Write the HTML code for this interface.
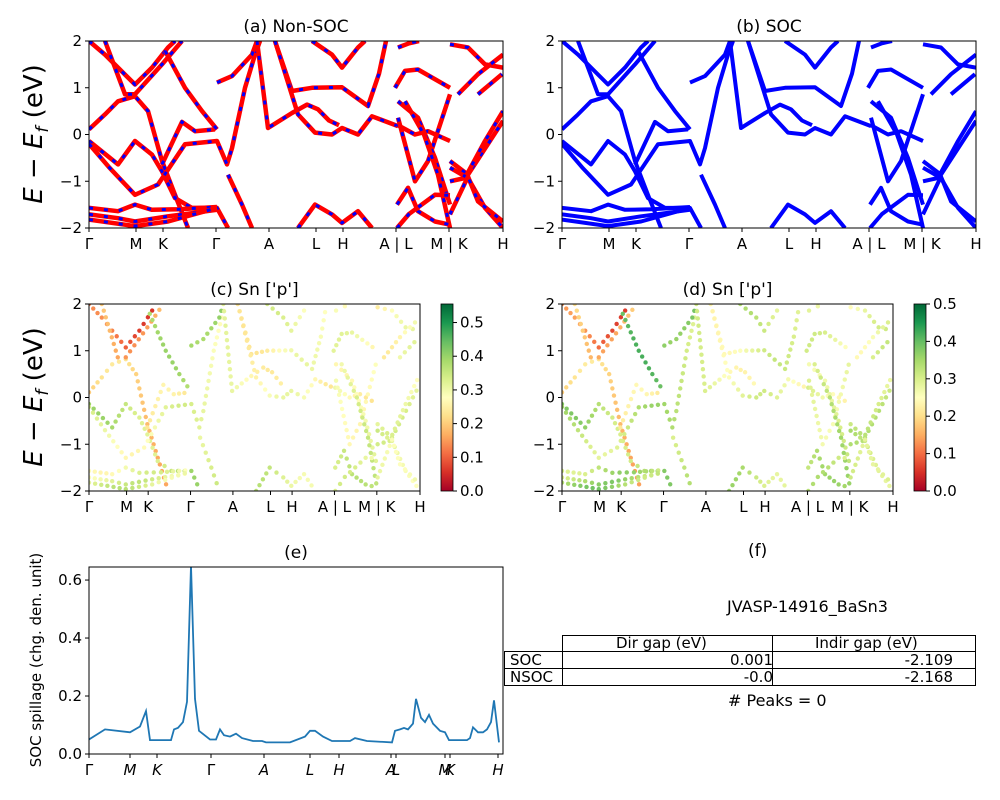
<!DOCTYPE html>
<html><head><meta charset="utf-8"><style>
body{margin:0;background:#fff}
svg{display:block;font-family:"DejaVu Sans","Liberation Sans",sans-serif}
</style></head><body>
<svg id="fig" width="1000" height="800" viewBox="0 0 1000 800">
<defs>
<linearGradient id="rdylgn" x1="0" y1="1" x2="0" y2="0">
<stop offset="0" stop-color="#a50026"/><stop offset="0.1" stop-color="#d73027"/><stop offset="0.2" stop-color="#f46d43"/><stop offset="0.3" stop-color="#fdae61"/><stop offset="0.4" stop-color="#fee08b"/><stop offset="0.5" stop-color="#ffffbf"/><stop offset="0.6" stop-color="#d9ef8b"/><stop offset="0.7" stop-color="#a6d96a"/><stop offset="0.8" stop-color="#66bd63"/><stop offset="0.9" stop-color="#1a9850"/><stop offset="1" stop-color="#006837"/>
</linearGradient>
</defs>
</svg>
<script>
// ---- data ----
const kTickPos = [0,0.47,0.74,1.27,1.80,2.27,2.54,3.07,3.60,4.14];
const kTickLabels = ["Γ","M","K","Γ","A","L","H","A | L","M | K","H"];
const kMax = 4.14;
const eTicks = [-2,-1,0,1,2];
const bands = [
 [[0,0.11],[0.16,0.43],[0.29,0.71],[0.46,0.82],[0.59,0.5],[0.73,-0.57],[0.86,-1.29],[0.99,-2]],
 [[0,-0.14],[0.29,-0.64],[0.46,-0.14],[0.63,-0.43],[0.73,-0.79],[0.86,-1.36],[1.03,-1.57],[1.28,-1.57],[1.39,-2]],
 [[0,-0.2],[0.2,-0.7],[0.46,-1.29],[0.69,-1.07],[0.96,-0.21],[1.28,-0.14],[1.38,-0.64],[1.43,-0.29],[1.56,1],[1.66,1.71],[1.71,2]],
 [[0.73,-0.64],[0.93,0.27],[1.06,0.07],[1.26,0.11]],
 [[1.28,1.11],[1.43,1.25],[1.63,1.71],[1.68,2]],
 [[1.39,-0.86],[1.53,-1.5],[1.63,-2]],
 [[1.68,2],[1.79,0.14],[2.03,0.46],[2.18,0.64],[2.29,0.54],[2.4,0.3],[2.5,0.2]],
 [[1.86,2],[2.03,0.93],[2.23,1],[2.53,1.01],[2.79,0.61],[2.9,1.3],[2.97,2]],
 [[1.86,2],[2.09,0.43],[2.26,0.04],[2.43,0],[2.53,0.14],[2.69,0],[2.83,0.39],[3.09,0.18]],
 [[2.23,2],[2.43,1.71],[2.53,1.43],[2.69,1.86],[2.76,2]],
 [[2.09,-2],[2.26,-1.5],[2.43,-1.71],[2.53,-1.89],[2.69,-1.64],[2.83,-2]],
 [[3.06,1],[3.16,1.36],[3.29,1.39],[3.61,1]],
 [[3.08,0.21],[3.26,0],[3.39,0.07],[3.61,-0.14]],
 [[3.09,0.36],[3.26,-1],[3.39,-0.57],[3.61,0.86]],
 [[3.09,0.71],[3.29,0.36],[3.46,-0.5],[3.61,-1.5]],
 [[3.16,0.71],[3.35,0],[3.49,-0.86],[3.61,-2]],
 [[3.08,-1.5],[3.19,-1.14],[3.29,-1.64],[3.46,-1.86],[3.61,-1.93]],
 [[3.08,-2],[3.2,-1.7],[3.46,-1.29],[3.61,-1.3]],
 [[3.09,1.86],[3.2,1.95],[3.3,2]],
 [[3.61,1.93],[3.79,1.86],[3.96,1.5],[4.14,1.43]],
 [[3.61,-0.57],[3.79,-0.86],[4.14,0.29]],
 [[3.61,-1],[3.76,-0.93],[3.96,-0.14],[4.14,0.5]],
 [[3.61,-0.71],[3.79,-0.93],[3.96,-1.57],[4.14,-2]],
 [[3.61,-1.71],[3.79,-0.9],[3.89,-1.43],[4.14,-1.86]],
 [[3.69,0.86],[3.89,1.29],[4.14,1.71]],
 [[3.89,0.86],[4.13,1.29]],
 [[0,2],[0.16,1.71],[0.29,1.43],[0.46,1.07],[0.63,1.43],[0.79,1.86],[0.86,2]],
 [[0.16,2],[0.36,0.86],[0.46,0.86],[0.73,1.5],[0.93,2]],
 [[0.76,1.79],[0.96,1],[1.13,0.5],[1.28,0.11]],
 [[0,-1.57],[0.29,-1.64],[0.46,-1.5],[0.63,-1.61],[0.9,-1.6],[1.28,-1.55]],
 [[0,-1.71],[0.29,-1.79],[0.46,-1.86],[0.79,-1.75],[1.28,-1.61]],
 [[0,-1.82],[0.46,-1.96],[0.79,-1.86],[1.28,-1.57]]
];
const weightsC = [0.2,0.36,0.3,0.22,0.42,0.33,0.28,0.27,0.27,0.3,0.33,0.28,0.27,0.3,0.3,0.32,0.33,0.3,0.25,0.27,0.3,0.3,0.32,0.32,0.28,0.28,0.1,0.18,0.36,0.3,0.32,0.33];
const weightsD = [0.18,0.34,0.32,0.2,0.4,0.32,0.27,0.28,0.27,0.3,0.32,0.27,0.27,0.3,0.3,0.32,0.32,0.3,0.25,0.27,0.3,0.3,0.32,0.32,0.28,0.28,0.1,0.18,0.38,0.33,0.34,0.35];
const spillK = [0,0.16,0.41,0.51,0.57,0.61,0.82,0.85,0.89,0.94,0.98,1.02,1.06,1.10,1.21,1.27,1.31,1.35,1.41,1.47,1.53,1.64,1.73,1.77,2.01,2.16,2.21,2.26,2.34,2.43,2.61,2.66,2.78,3.03,3.06,3.11,3.15,3.19,3.24,3.27,3.32,3.36,3.40,3.44,3.51,3.56,3.60,3.78,3.81,3.84,3.89,3.94,3.98,4.02,4.05,4.10];
const spillV = [0.05,0.085,0.075,0.095,0.148,0.048,0.048,0.085,0.09,0.11,0.18,0.65,0.19,0.08,0.05,0.05,0.085,0.065,0.06,0.07,0.055,0.045,0.045,0.04,0.04,0.06,0.08,0.08,0.06,0.045,0.045,0.055,0.045,0.04,0.08,0.085,0.09,0.085,0.105,0.19,0.125,0.11,0.135,0.105,0.08,0.075,0.048,0.048,0.055,0.092,0.075,0.075,0.085,0.11,0.185,0.04];
const eTickPos = [0,0.41,0.68,1.22,1.75,2.21,2.50,3.02,3.07,3.56,3.61,4.09];
const eTickLabels = ["Γ","M","K","Γ","A","L","H","A","L","M","K","H"];
const spillTicks = [0,0.2,0.4,0.6];

// ---- helpers ----
const NS="http://www.w3.org/2000/svg";
const svg=document.getElementById('fig');
function mk(tag,attrs,parent){const e=document.createElementNS(NS,tag);for(const k in attrs)e.setAttribute(k,attrs[k]);(parent||svg).appendChild(e);return e;}
function txt(x,y,s,size,anchor,parent,extra){const t=mk('text',Object.assign({x:x,y:y,'font-size':size,'text-anchor':anchor||'middle',fill:'#000'},extra||{}),parent);t.textContent=s;return t;}
function cmap(v){const st=[[165,0,38],[215,48,39],[244,109,67],[253,174,97],[254,224,139],[255,255,191],[217,239,139],[166,217,106],[102,189,99],[26,152,80],[0,104,55]];
 v=Math.max(0,Math.min(1,v))*10;const i=Math.min(9,Math.floor(v)),f=v-i;const a=st[i],b=st[i+1];
 return 'rgb('+a.map((c,j)=>Math.round(c+(b[j]-c)*f)).join(',')+')';}

function bandAxes(name,x0,y0,w,h,title,tickLabels){
 const g=mk('g',{});
 
 
 const sx=k=>x0+k/kMax*w, sy=e=>y0+(2-e)/4*h;
 const clip=mk('clipPath',{id:'clip-'+name},g);mk('rect',{x:x0,y:y0,width:w,height:h},clip);
 const plot=mk('g',{'clip-path':'url(#clip-'+name+')'},g);
 
 
 const fr=mk('rect',{x:x0,y:y0,width:w,height:h,fill:'none',stroke:'#000','stroke-width':1},g);
 
 
 kTickPos.forEach((k,i)=>{const x=sx(k);mk('line',{x1:x,y1:y0+h,x2:x,y2:y0+h+4,stroke:'#000'},g);
  const t=txt(x,y0+h+21,tickLabels[i],15,'middle',g);
  
  });
 eTicks.forEach(e=>{const y=sy(e);mk('line',{x1:x0-4,y1:y,x2:x0,y2:y,stroke:'#000'},g);
  const t=txt(x0-7,y+5,e<0?'−'+(-e):String(e),15,'end',g);
  
  });
 const tt=txt(x0+w/2,y0-9,title,17,'middle',g);
 
 
 return {plot,sx,sy,g};
}
function ylabelE(cx,cy){
 const t=mk('text',{x:0,y:0,'font-size':26,'text-anchor':'middle',transform:'translate('+cx+','+cy+') rotate(-90)'});
 
 
 t.innerHTML='<tspan font-style="italic">E</tspan> − <tspan font-style="italic">E</tspan><tspan font-style="italic" font-size="17" dy="6">f</tspan><tspan dy="-6"> (eV)</tspan>';
}
function pathOf(b,sx,sy){return b.map((p,i)=>(i?'L':'M')+sx(p[0]).toFixed(1)+' '+sy(p[1]).toFixed(1)).join(' ');}

// (a)
const A=bandAxes('panel-a-nonsoc',89,41,414,187,'(a) Non-SOC',kTickLabels);
bands.forEach(b=>{const d=pathOf(b,A.sx,A.sy);
 const p=mk('path',{d:d,fill:'none',stroke:'#ff0000','stroke-width':4.5,'stroke-linejoin':'round'},A.plot);
 
 
 const q=mk('path',{d:d,fill:'none',stroke:'#0000ff','stroke-width':3,'stroke-dasharray':'4 11'},A.plot);
 
 });
// (b)
const B=bandAxes('panel-b-soc',562,41,414,187,'(b) SOC',kTickLabels);
bands.forEach(b=>{const d=pathOf(b,B.sx,B.sy);
 const p=mk('path',{d:d,fill:'none',stroke:'#0000ff','stroke-width':4,'stroke-linejoin':'round'},B.plot);
 
 });
ylabelE(42,134);

// scatter panels
function scatterPanel(name,x0,title,weights,vmax,cbx,cbTicks){
 const ax=bandAxes(name,x0,304,331,187,title,kTickLabels);
 bands.forEach((b,bi)=>{
  for(let s=0;s<b.length-1;s++){const [k1,e1]=b[s],[k2,e2]=b[s+1];
   const n=Math.max(1,Math.round(Math.hypot(k2-k1,(e2-e1)*0.5)/0.08));
   for(let j=0;j<n;j++){const f=j/n;const k=k1+(k2-k1)*f,e=e1+(e2-e1)*f;
    const w=weights[bi]+0.04*Math.sin(k*5+bi);
    const c=mk('circle',{cx:ax.sx(k),cy:ax.sy(e),r:2.2,fill:cmap(w/vmax)},ax.plot);
    
    }}});
 const cb=mk('g',{});
 
 
 mk('rect',{x:cbx,y:304,width:12,height:187,fill:'url(#rdylgn)',stroke:'#000','stroke-width':0.8},cb);
 cbTicks.forEach(v=>{const y=491-v/vmax*187;mk('line',{x1:cbx+12,y1:y,x2:cbx+16,y2:y,stroke:'#000'},cb);
  const t=txt(cbx+19,y+5,v.toFixed(1),15,'start',cb);
  
  });
}
scatterPanel('panel-c-sn-p-nonsoc',89,"(c)  Sn ['p']",weightsC,0.555,441,[0,0.1,0.2,0.3,0.4,0.5]);
scatterPanel('panel-d-sn-p-soc',562,"(d) Sn ['p']",weightsD,0.5,914,[0,0.1,0.2,0.3,0.4,0.5]);
ylabelE(42,397);

// (e) spillage
(function(){
 const x0=89,y0=567,w=414,h=187,ymax=0.645;
 const sx=k=>x0+k/kMax*w, sy=v=>y0+h-v/ymax*h;
 const g=mk('g',{});
 
 
 const d=spillK.map((k,i)=>(i?'L':'M')+sx(k).toFixed(1)+' '+sy(spillV[i]).toFixed(1)).join(' ');
 const cp=mk('clipPath',{id:'clip-e'},g);mk('rect',{x:x0,y:y0,width:w,height:h},cp);
 const l=mk('path',{d:d,fill:'none',stroke:'#1f77b4','stroke-width':1.8,'clip-path':'url(#clip-e)'},g);
 
 
 mk('rect',{x:x0,y:y0,width:w,height:h,fill:'none',stroke:'#000'},g);
 spillTicks.forEach(v=>{const y=sy(v);mk('line',{x1:x0-4,y1:y,x2:x0,y2:y,stroke:'#000'},g);
  const t=txt(x0-7,y+5,v.toFixed(1),15,'end',g);
  
  });
 eTickPos.forEach((k,i)=>{const x=sx(k);mk('line',{x1:x,y1:y0+h,x2:x,y2:y0+h+4,stroke:'#000'},g);
  const t=txt(x,y0+h+21,eTickLabels[i],15,'middle',g,{'font-style':eTickLabels[i]==='Γ'?'normal':'italic'});
  
  });
 const tt=txt(x0+w/2,y0-9,'(e)',17,'middle',g);
 
 
 const yl=mk('text',{x:0,y:0,'font-size':15,'text-anchor':'middle',transform:'translate(41,660) rotate(-90)'},g);
 yl.textContent='SOC spillage (chg. den. unit)';
 
 
})();
</script>
<div style="position:absolute;left:0;top:0;width:1000px;height:800px;pointer-events:none;font-family:'DejaVu Sans','Liberation Sans',sans-serif;font-size:15px">
 <div style="position:absolute;left:748px;top:541px;font-size:17px">(f)</div>
 <div style="position:absolute;left:727px;top:597px;font-size:16px">JVASP-14916_BaSn3</div>
 <div style="position:absolute;left:562px;top:635px;width:414px;height:17px;border:1px solid #000;box-sizing:border-box">
  <div style="position:absolute;left:209px;top:0;width:1px;height:16px;background:#000"></div>
  <span style="position:absolute;left:53px;top:-2px">Dir gap (eV)</span>
  <span style="position:absolute;left:252px;top:-2px">Indir gap (eV)</span>
 </div>
 <div style="position:absolute;left:504px;top:651px;width:472px;height:18px;border:1px solid #000;box-sizing:border-box">
  <div style="position:absolute;left:57px;top:0;width:1px;height:17px;background:#000"></div>
  <div style="position:absolute;left:267px;top:0;width:1px;height:17px;background:#000"></div>
  <span style="position:absolute;left:5px;top:-1px">SOC</span>
  <span style="position:absolute;right:202px;top:-1px">0.001</span>
  <span style="position:absolute;right:22px;top:-1px">-2.109</span>
 </div>
 <div style="position:absolute;left:504px;top:668px;width:472px;height:18px;border:1px solid #000;box-sizing:border-box">
  <div style="position:absolute;left:57px;top:0;width:1px;height:17px;background:#000"></div>
  <div style="position:absolute;left:267px;top:0;width:1px;height:17px;background:#000"></div>
  <span style="position:absolute;left:5px;top:-1px">NSOC</span>
  <span style="position:absolute;right:202px;top:-1px">-0.0</span>
  <span style="position:absolute;right:22px;top:-1px">-2.168</span>
 </div>
 <div style="position:absolute;left:728px;top:691px;font-size:16px"># Peaks = 0</div>
</div>
</body></html>
